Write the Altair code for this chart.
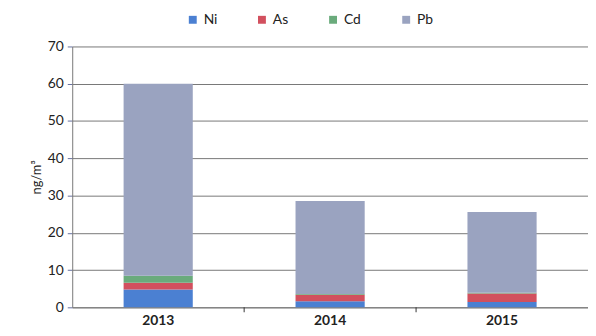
import altair as alt
import pandas as pd

years = ["2013", "2014", "2015"]
metals = ["Ni", "As", "Cd", "Pb"]
ni = [4.8, 1.6, 1.4]
as_ = [1.8, 1.8, 2.3]
cd = [1.9, 0.2, 0.2]
pb = [51.5, 24.9, 21.7]
colors = ["#4b80d2", "#d2505e", "#6aab7c", "#9aa3c0"]

rows = []
for i, y in enumerate(years):
    for j, (m, vals) in enumerate(zip(metals, [ni, as_, cd, pb])):
        rows.append({"year": y, "metal": m, "value": vals[i], "order": j})
df = pd.DataFrame(rows)

font = "Lato"
W, H = 522, 264

xscale = alt.Scale(domain=years, paddingInner=0, paddingOuter=0)

bars = alt.Chart(df).mark_bar(size=70).encode(
    x=alt.X("year:N", scale=xscale, sort=years,
            axis=alt.Axis(title=None, labelAngle=0, ticks=False, labelFontWeight="bold",
                          labelFontSize=14, labelPadding=6, domainColor="#777", labelColor="#222")),
    y=alt.Y("value:Q", stack="zero", scale=alt.Scale(domain=[0, 70]),
            axis=alt.Axis(title="ng/m³", values=list(range(0, 71, 10)), tickSize=5,
                          labelFontSize=14, labelPadding=4, titleFontSize=13,
                          titleFontWeight="normal", gridColor="#777", tickColor="#6670a0",
                          domainColor="#777", labelColor="#222", titleColor="#222")),
    color=alt.Color("metal:N", scale=alt.Scale(domain=metals, range=colors),
                    legend=alt.Legend(title=None, orient="none", direction="horizontal",
                                      legendX=115, legendY=-34,
                                      symbolType="square", symbolSize=64, labelFontSize=14,
                                      columnPadding=38, labelColor="#222")),
    order=alt.Order("order:Q"),
)

tdf = pd.DataFrame({"year": ["2014", "2015"]})
ticks = alt.Chart(tdf).mark_rule(color="#333").encode(
    x=alt.X("year:N", scale=xscale, sort=years, bandPosition=0),
    y=alt.value(H), y2=alt.value(H + 5),
)

chart = alt.layer(bars, ticks).properties(
    width=W, height=H, padding={"left": 22, "top": 3, "right": 0, "bottom": 0}
).configure(font=font).configure_view(stroke=None).configure_axis(gridWidth=1)

chart.save("out.html", embed_options={"renderer": "svg", "actions": False})
